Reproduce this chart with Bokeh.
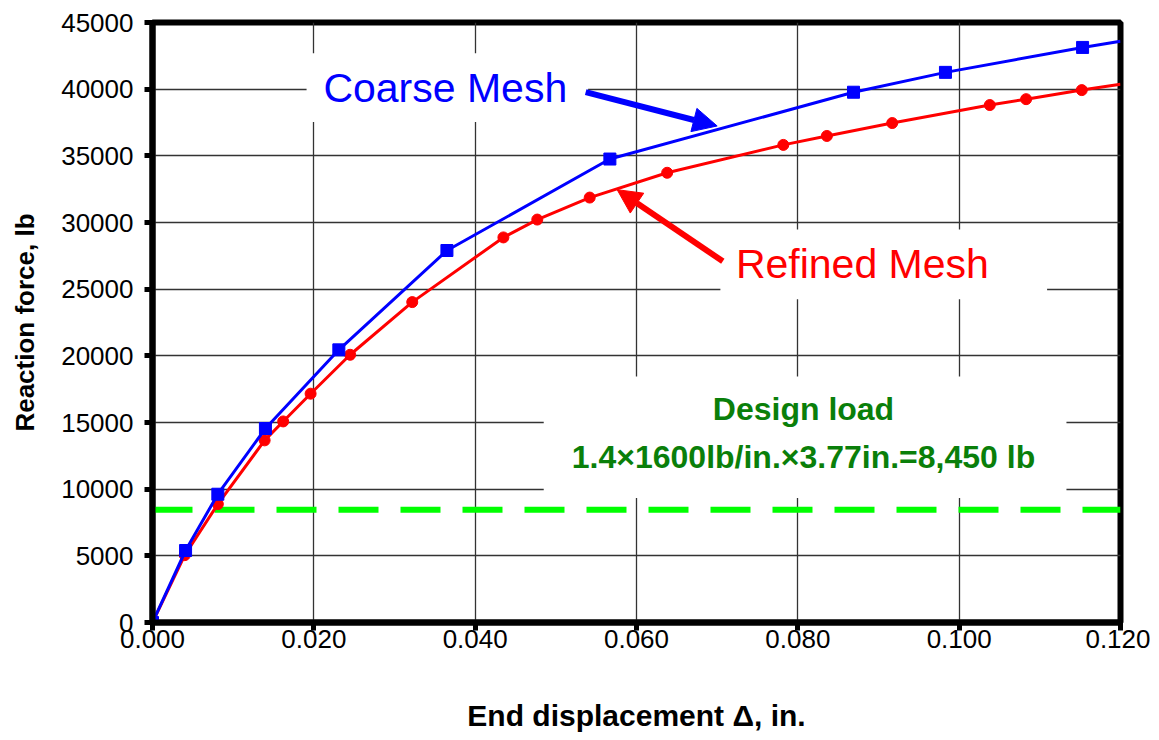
from bokeh.plotting import figure
from bokeh.models import Range1d, SingleIntervalTicker, NumeralTickFormatter, Arrow, NormalHead, Label
from bokeh.embed import file_html
from bokeh.resources import INLINE

# ---- data ----
coarse_x = [0.0, 0.0041, 0.0081, 0.0140, 0.0231, 0.0365, 0.0567, 0.0869, 0.0983, 0.1153, 0.1200]
coarse_y = [0, 5400, 9620, 14550, 20450, 27900, 34760, 39770, 41260, 43130, 43600]
refined_x = [0.0, 0.0040, 0.0081, 0.0139, 0.0162, 0.0196, 0.0245, 0.0322, 0.0435, 0.0477,
             0.0542, 0.0638, 0.0782, 0.0836, 0.0917, 0.1038, 0.1083, 0.1152, 0.1200]
refined_y = [0, 5050, 8880, 13660, 15080, 17160, 20080, 24030, 28880, 30220,
             31870, 33730, 35820, 36490, 37460, 38810, 39250, 39930, 40370]
design_load = 8450
x_ticks_step = 0.02
y_ticks_step = 5000

FONT = "Liberation Sans"

p = figure(width=1150, height=734, output_backend="svg", toolbar_location=None,
           x_range=Range1d(0, 0.12), y_range=Range1d(0, 45000),
           min_border_left=152, min_border_right=30, min_border_top=22, min_border_bottom=101)

p.background_fill_color = "white"
p.border_fill_color = "white"
p.outline_line_color = "black"
p.outline_line_width = 6

# axes
p.xaxis.ticker = SingleIntervalTicker(interval=x_ticks_step)
p.yaxis.ticker = SingleIntervalTicker(interval=y_ticks_step)
p.xaxis.formatter = NumeralTickFormatter(format="0.000")
p.yaxis.formatter = NumeralTickFormatter(format="0")
for ax in (p.xaxis, p.yaxis):
    ax.axis_line_width = 6
    ax.axis_line_color = "black"
    ax.major_tick_line_width = 5
    ax.major_tick_line_color = "black"
    ax.major_tick_out = 8
    ax.major_tick_in = 0
    ax.minor_tick_out = 0
    ax.minor_tick_in = 0
    ax.major_label_text_font = FONT
    ax.major_label_text_font_size = "26px"
    ax.major_label_text_color = "black"
    ax.axis_label_text_font = FONT
    ax.axis_label_text_font_style = "bold"
    ax.axis_label_text_color = "black"

p.xaxis.axis_label = "End displacement Δ, in."
p.xaxis.axis_label_text_font_size = "30px"
p.xaxis.axis_label_standoff = 48
p.xaxis.major_label_standoff = -1
p.yaxis.axis_label = "Reaction force, lb"
p.yaxis.axis_label_text_font_size = "26px"
p.yaxis.axis_label_standoff = 18
p.yaxis.major_label_standoff = 11

p.xgrid.ticker = SingleIntervalTicker(interval=x_ticks_step)
p.ygrid.ticker = SingleIntervalTicker(interval=y_ticks_step)
p.grid.grid_line_color = "#333333"
p.grid.grid_line_width = 1.3

# white label boxes that interrupt the grid
p.quad(left=[0.0191, 0.0704, 0.0485], right=[0.0540, 0.1109, 0.1133],
       top=[42690, 29480, 18450], bottom=[37540, 24250, 9330],
       fill_color="white", line_color=None)

# design load line
p.line([0, 0.12], [design_load, design_load], line_color="#00FF00", line_width=6, line_dash="40 22")

# series
p.line(refined_x, refined_y, line_color="#FF0000", line_width=3)
p.scatter(refined_x[:-1], refined_y[:-1], marker="circle", size=11, fill_color="#FF0000", line_color="#FF0000")
p.line(coarse_x, coarse_y, line_color="#0000FF", line_width=3)
p.scatter(coarse_x[:-1], coarse_y[:-1], marker="square", size=12, fill_color="#0000FF", line_color="#0000FF")

# arrows
p.add_layout(Arrow(x_start=0.0537, y_start=39776, x_end=0.0700, y_end=37239,
                   line_color="#0000FF", line_width=6,
                   end=NormalHead(size=24, fill_color="#0000FF", line_color="#0000FF", line_width=1)))
p.add_layout(Arrow(x_start=0.0707, y_start=27090, x_end=0.0576, y_end=32463,
                   line_color="#FF0000", line_width=6,
                   end=NormalHead(size=24, fill_color="#FF0000", line_color="#FF0000", line_width=1)))

# labels
p.add_layout(Label(x=0.0363, y=40075, text="Coarse Mesh", text_align="center", text_baseline="middle",
                   text_font=FONT, text_font_size="41px", text_color="#0000FF"))
p.add_layout(Label(x=0.0880, y=26866, text="Refined Mesh", text_align="center", text_baseline="middle",
                   text_font=FONT, text_font_size="41px", text_color="#FF0000"))
p.add_layout(Label(x=0.0807, y=16000, text="Design load", text_align="center", text_baseline="middle",
                   text_font=FONT, text_font_size="32px", text_font_style="bold", text_color="#0A7F0A"))
p.add_layout(Label(x=0.0807, y=12450, text="1.4×1600lb/in.×3.77in.=8,450 lb", text_align="center",
                   text_baseline="middle", text_font=FONT, text_font_size="32px", text_font_style="bold",
                   text_color="#0A7F0A"))

open("out.html", "w").write(file_html(p, INLINE))
